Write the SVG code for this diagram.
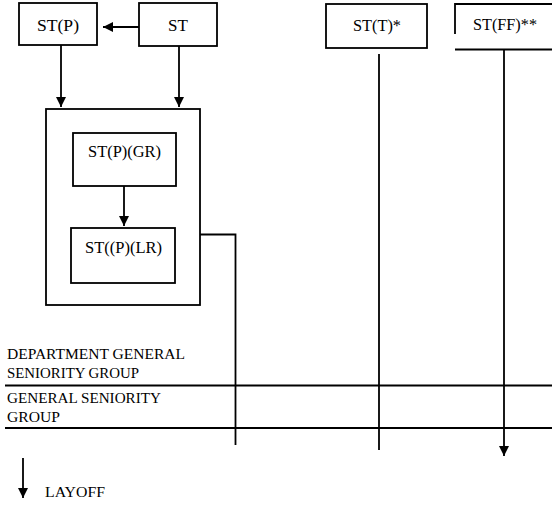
<svg xmlns="http://www.w3.org/2000/svg" width="552" height="506" viewBox="0 0 552 506">
<style>
.box{fill:#fff;stroke:#000;stroke-width:1.8}
.ln{fill:none;stroke:#000;stroke-width:1.8}
.lb{font-family:'Liberation Serif','DejaVu Serif',serif;font-size:17px;fill:#000;text-anchor:middle}
.gl{font-family:'Liberation Serif','DejaVu Serif',serif;font-size:15px;fill:#000}
</style>
<defs>
<marker id="ah" markerUnits="userSpaceOnUse" markerWidth="12" markerHeight="12" refX="10" refY="5" orient="auto">
<path d="M0,0 L10,5 L0,10 Z" fill="#000"/>
</marker>
</defs>
<rect width="552" height="506" fill="#fff"/>
<g id="groups">
<line class="ln" x1="5" y1="385.5" x2="552" y2="385.5" stroke-width="2.2"/>
<line class="ln" x1="5" y1="428" x2="552" y2="428"/>
<text class="gl" x="7" y="359" textLength="178" lengthAdjust="spacingAndGlyphs">DEPARTMENT GENERAL</text>
<text class="gl" x="7" y="378" textLength="132" lengthAdjust="spacingAndGlyphs">SENIORITY GROUP</text>
<text class="gl" x="7" y="403" textLength="154" lengthAdjust="spacingAndGlyphs">GENERAL SENIORITY</text>
<text class="gl" x="7" y="422" textLength="53" lengthAdjust="spacingAndGlyphs">GROUP</text>
</g>
<g id="container">
<rect class="box" x="46" y="109" width="154" height="196"/>
</g>
<g id="st_p">
<rect class="box" x="19" y="3" width="78" height="42"/>
<text class="lb" x="58" y="31" textLength="42" lengthAdjust="spacingAndGlyphs">ST(P)</text>
</g>
<g id="st">
<rect class="box" x="139" y="3" width="78" height="43"/>
<text class="lb" x="178" y="31">ST</text>
</g>
<g id="st_t">
<rect class="box" x="326" y="4" width="101" height="44"/>
<text class="lb" x="377" y="31" textLength="48" lengthAdjust="spacingAndGlyphs">ST(T)*</text>
</g>
<g id="st_ff">
<path class="ln" d="M552,4 H455 V34 M455,49.5 H552"/>
<text class="lb" x="505" y="30" textLength="64" lengthAdjust="spacingAndGlyphs">ST(FF)**</text>
</g>
<g id="st_p_gr">
<rect class="box" x="73" y="133" width="103" height="53"/>
<text class="lb" x="124.5" y="157" textLength="73" lengthAdjust="spacingAndGlyphs">ST(P)(GR)</text>
</g>
<g id="st_p_lr">
<rect class="box" x="71" y="228" width="104" height="55"/>
<text class="lb" x="123.5" y="253" textLength="77" lengthAdjust="spacingAndGlyphs">ST((P)(LR)</text>
</g>
<g id="connectors">
<line class="ln" x1="139" y1="27" x2="103" y2="27" marker-end="url(#ah)"/>
<line class="ln" x1="61" y1="45" x2="61" y2="107" marker-end="url(#ah)"/>
<line class="ln" x1="179" y1="46" x2="179" y2="107" marker-end="url(#ah)"/>
<line class="ln" x1="124" y1="186" x2="124" y2="226" marker-end="url(#ah)"/>
<path class="ln" d="M200,234.5 H235.5 V445"/>
<line class="ln" x1="379" y1="54" x2="379" y2="450"/>
<line class="ln" x1="504" y1="49.5" x2="504" y2="456" marker-end="url(#ah)"/>
</g>
<g id="legend">
<line class="ln" x1="23" y1="458" x2="23" y2="498" marker-end="url(#ah)"/>
<text class="gl" x="45" y="497" textLength="60" lengthAdjust="spacingAndGlyphs">LAYOFF</text>
</g>
</svg>
